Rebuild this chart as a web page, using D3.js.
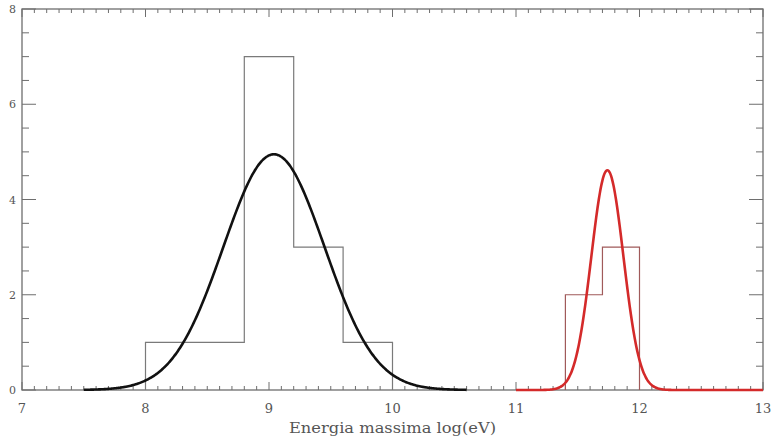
<!DOCTYPE html>
<html>
<head>
<meta charset="utf-8">
<script src="https://cdn.jsdelivr.net/npm/d3@7"></script>
<style>
  body { margin: 0; background: #fff; }
  text { font-family: "DejaVu Serif", "Liberation Serif", serif; fill: #555; }
</style>
</head>
<body>
<div id="chart"></div>
<script>
// histogram bins (edges + counts)
const blackEdges = [8.0, 8.4, 8.8, 9.2, 9.6, 10.0];
const blackCounts = [1, 1, 7, 3, 1];
const redEdges = [11.4, 11.7, 12.0];
const redCounts = [2, 3];

// gaussian fits: [amplitude, mean, sigma, drawn from, drawn to]
const blackFit = [4.95, 9.04, 0.41, 7.5, 10.6];
const redFit = [4.62, 11.74, 0.13, 11.0, 13.0];

const xTicks = [7, 8, 9, 10, 11, 12, 13];
const yTicks = [0, 2, 4, 6, 8];
const xTitle = "Energia massima log(eV)";

const width = 774, height = 441;
const margin = { top: 9, right: 11, bottom: 51, left: 22 };
const iw = width - margin.left - margin.right;
const ih = height - margin.top - margin.bottom;

const svg = d3.select("#chart").append("svg")
  .attr("width", width).attr("height", height);
const g = svg.append("g").attr("transform", `translate(${margin.left},${margin.top})`);

const x = d3.scaleLinear().domain([7, 13]).range([0, iw]);
const y = d3.scaleLinear().domain([0, 8]).range([ih, 0]);

const axisCol = "#6e6e6e";

// frame
g.append("rect").attr("width", iw).attr("height", ih)
  .attr("fill", "none").attr("stroke", axisCol).attr("stroke-width", 1.3);

// x ticks (bottom and top, pointing inward)
const xMinor = d3.range(70, 131).map(d => d / 10).filter(d => d % 1 !== 0);
[[ih, -1], [0, 1]].forEach(([y0, dir]) => {
  g.selectAll(null).data(xMinor).enter().append("line")
    .attr("x1", d => x(d)).attr("x2", d => x(d))
    .attr("y1", y0).attr("y2", y0 + dir * 4)
    .attr("stroke", axisCol).attr("stroke-width", 1);
  g.selectAll(null).data(xTicks).enter().append("line")
    .attr("x1", d => x(d)).attr("x2", d => x(d))
    .attr("y1", y0).attr("y2", y0 + dir * 8)
    .attr("stroke", axisCol).attr("stroke-width", 1);
});

// y ticks (left and right)
const yMinor = d3.range(0, 8.01, 0.5).filter(d => d % 2 !== 0);
[[0, 1], [iw, -1]].forEach(([x0, dir]) => {
  g.selectAll(null).data(yMinor).enter().append("line")
    .attr("y1", d => y(d)).attr("y2", d => y(d))
    .attr("x1", x0).attr("x2", x0 + dir * 7)
    .attr("stroke", axisCol).attr("stroke-width", 1);
  g.selectAll(null).data(yTicks).enter().append("line")
    .attr("y1", d => y(d)).attr("y2", d => y(d))
    .attr("x1", x0).attr("x2", x0 + dir * 14)
    .attr("stroke", axisCol).attr("stroke-width", 1);
});

// tick labels
g.selectAll(".xl").data(xTicks).enter().append("text")
  .attr("class", "xl")
  .attr("x", d => x(d)).attr("y", ih + 23)
  .attr("text-anchor", "middle").attr("font-size", 13)
  .text(d => d);
g.selectAll(".yl").data(yTicks).enter().append("text")
  .attr("class", "yl")
  .attr("x", -6).attr("y", d => y(d) + 4)
  .attr("text-anchor", "end").attr("font-size", 11)
  .text(d => d);

g.append("text")
  .attr("x", iw / 2).attr("y", ih + 43)
  .attr("text-anchor", "middle").attr("font-size", 14)
  .attr("textLength", 207).attr("lengthAdjust", "spacingAndGlyphs")
  .text(xTitle);

// step histogram
const histPath = (edges, counts) => {
  const pts = [[edges[0], 0]];
  counts.forEach((c, i) => { pts.push([edges[i], c]); pts.push([edges[i + 1], c]); });
  pts.push([edges[edges.length - 1], 0]);
  return d3.line().x(d => x(d[0])).y(d => y(d[1]))(pts);
};

g.append("path").attr("d", histPath(blackEdges, blackCounts))
  .attr("fill", "none").attr("stroke", "#7a7a7a").attr("stroke-width", 1.2);
g.append("path").attr("d", histPath(redEdges, redCounts))
  .attr("fill", "none").attr("stroke", "#a05a5a").attr("stroke-width", 1.2);

// gaussian curves
const gaussPath = ([a, mu, s, x0, x1]) => {
  const xs = d3.range(x0, x1 + 1e-9, 0.01);
  return d3.line().curve(d3.curveBasis)
    .x(d => x(d)).y(d => y(a * Math.exp(-((d - mu) ** 2) / (2 * s * s))))(xs);
};

g.append("path").attr("d", gaussPath(redFit))
  .attr("fill", "none").attr("stroke", "#d42a2a").attr("stroke-width", 2.6);
g.append("path").attr("d", gaussPath(blackFit))
  .attr("fill", "none").attr("stroke", "#111").attr("stroke-width", 2.6);
</script>
</body>
</html>
